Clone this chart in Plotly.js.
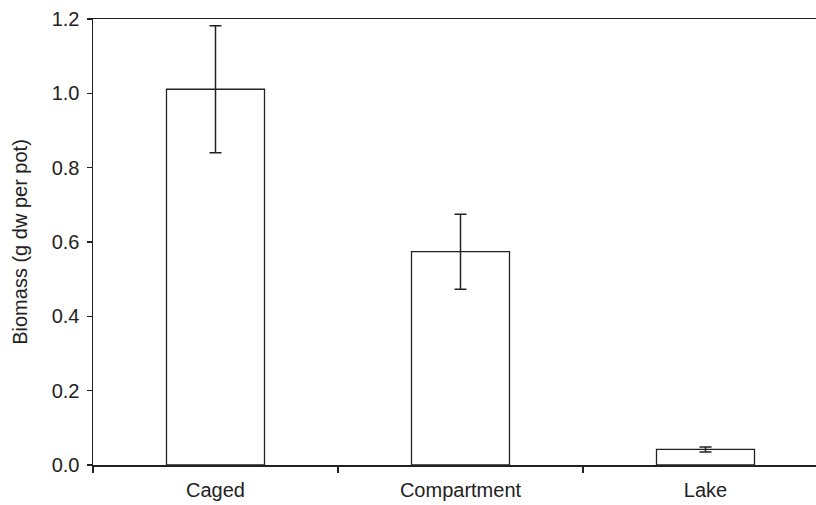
<!DOCTYPE html>
<html>
<head>
<meta charset="utf-8">
<script src="https://cdn.plot.ly/plotly-3.0.1.min.js"></script>
<style>html,body{margin:0;padding:0;background:#fff;}#chart{width:816px;height:505px;}</style>
</head>
<body>
<div id="chart"></div>
<script>
const categories = ["Caged", "Compartment", "Lake"];
const biomass = [1.011, 0.574, 0.042];
const errors = [0.171, 0.101, 0.0067];
const yTickVals = [0, 0.2, 0.4, 0.6, 0.8, 1.0, 1.2];
const yTickText = ["0.0", "0.2", "0.4", "0.6", "0.8", "1.0", "1.2"];

const ink = "#222";
const trace = {
  type: "bar",
  x: categories,
  y: biomass,
  width: 0.4,
  marker: {color: "#fff", line: {color: ink, width: 1.3}},
  error_y: {type: "data", array: errors, visible: true, color: ink, thickness: 1.5, width: 6},
  hoverinfo: "none"
};
const layout = {
  width: 816, height: 505,
  margin: {l: 93, r: 0, t: 18.5, b: 40.3},
  paper_bgcolor: "#fff", plot_bgcolor: "#fff",
  showlegend: false,
  font: {family: "Liberation Sans, Arial, sans-serif", size: 20, color: ink},
  xaxis: {
    type: "category",
    range: [-0.5, 2.451],
    showline: true, linecolor: ink, linewidth: 1.5, mirror: true,
    ticks: "outside", tickson: "boundaries", ticklen: 6, tickwidth: 1.2, tickcolor: ink,
    ticklabelstandoff: 6,
    showgrid: false, zeroline: false,
    tickfont: {size: 20, color: ink}
  },
  yaxis: {
    range: [0, 1.2],
    tickvals: yTickVals, ticktext: yTickText,
    showline: true, linecolor: ink, linewidth: 1.5,
    ticks: "outside", ticklen: 5, tickwidth: 1.2, tickcolor: ink,
    ticklabelstandoff: 3,
    showgrid: false, zeroline: false,
    tickfont: {size: 20, color: ink},
    title: {text: "Biomass (g dw per pot)", font: {size: 20, color: ink}, standoff: 18}
  }
};
Plotly.newPlot("chart", [trace], layout, {staticPlot: true, displayModeBar: false});
</script>
</body>
</html>
